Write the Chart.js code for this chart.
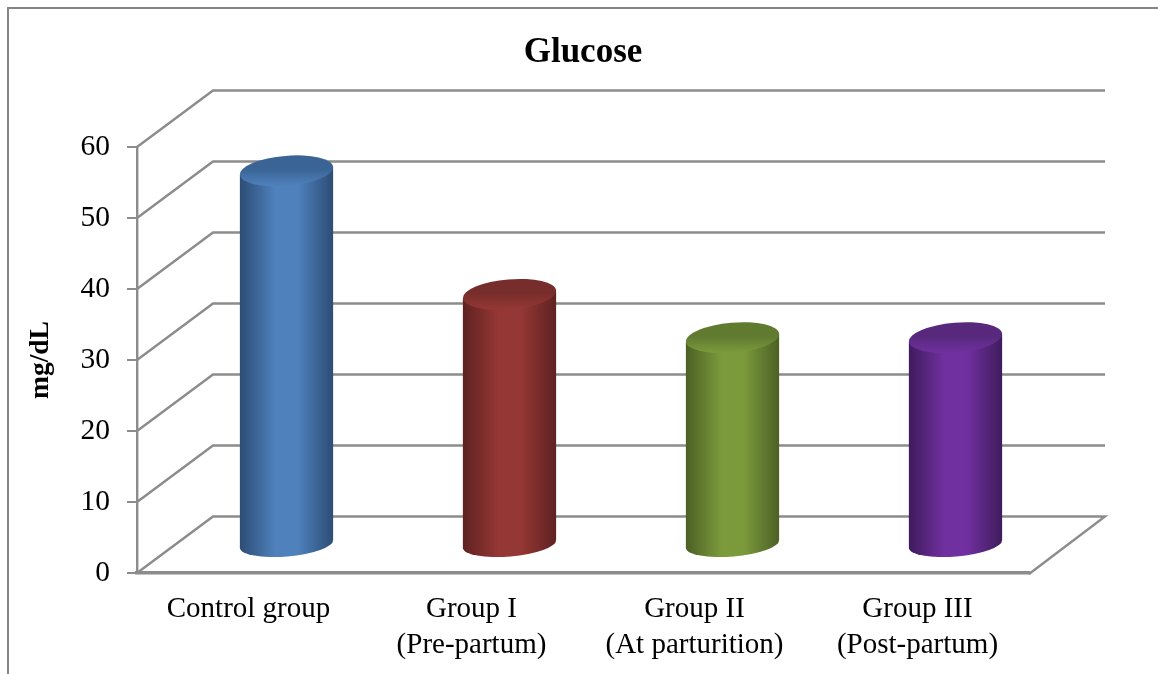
<!DOCTYPE html>
<html>
<head>
<meta charset="utf-8">
<title>Glucose</title>
<script src="https://cdn.jsdelivr.net/npm/chart.js@4"></script>
<style>
  html, body { margin: 0; padding: 0; background: #fff; overflow: hidden; }
  #wrap { width: 1158px; height: 674px; }
</style>
</head>
<body>
<div id="wrap"><canvas id="glucoseChart" width="1158" height="674"></canvas></div>
<script>
var categories = [
  "Control group",
  ["Group I", "(Pre-partum)"],
  ["Group II", "(At parturition)"],
  ["Group III", "(Post-partum)"]
];
var glucose = [52.7, 35.3, 29.2, 29.2];
var yTicks = [0, 10, 20, 30, 40, 50, 60];

var midColors = ["#4f81bd", "#953735", "#7b9a3c", "#7030a0"];
var edgeColors = ["#2c4d75", "#5e2221", "#4c6025", "#3f1b5c"];
var capColors = ["#3a6496", "#772d2b", "#607a30", "#57287c"];

var GRID = "#8c8c8c";
var FONT = "'Liberation Serif', 'Times New Roman', serif";
var DEPTH_X = 76, DEPTH_Y = -56.5;   // how far the back wall sits behind the front axis
var BAR_X = 38, BAR_Y = -28;         // bars stand half way in
var BAR_PCT = 0.418;
var CAP_RY = 15, FOOT_RY = 12.5, TILT = -0.085;

function sideGradient(c, left, right, i) {
  var g = c.createLinearGradient(left, 0, right, 0);
  g.addColorStop(0, edgeColors[i]);
  g.addColorStop(0.38, midColors[i]);
  g.addColorStop(0.62, midColors[i]);
  g.addColorStop(1, edgeColors[i]);
  return g;
}

// the tilted outline of a cylinder body, between the middles of its two ends
function bodyPath(c, b) {
  var half = b.width / 2, d = Math.tan(-TILT) * half;
  c.moveTo(b.x - half, b.y + d);
  c.lineTo(b.x + half, b.y - d);
  c.lineTo(b.x + half, b.base - d);
  c.lineTo(b.x - half, b.base + d);
  c.closePath();
}

var wall3d = {
  id: "wall3d",
  beforeDraw: function (chart) {
    var c = chart.ctx;
    // picture frame, only top and left show
    c.save();
    c.strokeStyle = "#868686";
    c.lineWidth = 2;
    c.beginPath();
    c.moveTo(8, chart.height);
    c.lineTo(8, 8);
    c.lineTo(chart.width, 8);
    c.stroke();
    c.restore();
  },
  beforeDatasetsDraw: function (chart) {
    var c = chart.ctx, a = chart.chartArea, y = chart.scales.y;
    c.save();
    c.strokeStyle = GRID;
    c.lineWidth = 2.4;
    yTicks.forEach(function (t) {
      var py = y.getPixelForValue(t);
      c.beginPath();
      c.moveTo(a.left, py);
      c.lineTo(a.left + DEPTH_X, py + DEPTH_Y);
      c.lineTo(a.right + DEPTH_X, py + DEPTH_Y);
      if (t === 0) c.lineTo(a.right, py + 1);
      c.stroke();
    });
    c.restore();

    // feet and tilted body first, the straight bars then get clipped to that body
    c.save();
    c.translate(BAR_X, BAR_Y);
    var bars = chart.getDatasetMeta(0).data;
    bars.forEach(function (b, i) {
      var half = b.width / 2;
      c.fillStyle = sideGradient(c, b.x - half, b.x + half, i);
      c.beginPath();
      c.ellipse(b.x, b.base, half / Math.cos(TILT), FOOT_RY, TILT, 0, Math.PI * 2);
      c.fill();
      c.beginPath();
      bodyPath(c, b);
      c.fill();
    });
    c.beginPath();
    bars.forEach(function (b) {
      bodyPath(c, b);
    });
    c.clip();
  },
  afterDatasetsDraw: function (chart) {
    var c = chart.ctx;
    c.restore();
    c.save();
    c.translate(BAR_X, BAR_Y);
    chart.getDatasetMeta(0).data.forEach(function (b, i) {
      var half = b.width / 2;
      var g = c.createLinearGradient(0, b.y - CAP_RY, 0, b.y + CAP_RY);
      g.addColorStop(0, capColors[i]);
      g.addColorStop(0.45, capColors[i]);
      g.addColorStop(1, midColors[i]);
      c.fillStyle = g;
      c.beginPath();
      c.ellipse(b.x, b.y, half / Math.cos(TILT), CAP_RY, TILT, 0, Math.PI * 2);
      c.fill();
    });
    c.restore();
  }
};

new Chart(document.getElementById("glucoseChart"), {
  type: "bar",
  plugins: [wall3d],
  data: {
    labels: categories,
    datasets: [{
      label: "Glucose",
      data: glucose,
      categoryPercentage: 1,
      barPercentage: BAR_PCT,
      borderWidth: 0,
      backgroundColor: function (ctx) {
        var i = ctx.dataIndex, chart = ctx.chart;
        if (i === undefined || !chart.chartArea) return midColors[0];
        var x = chart.scales.x;
        var center = x.getPixelForValue(i);
        var half = chart.chartArea.width / categories.length * BAR_PCT / 2;
        if (!isFinite(center) || !isFinite(half)) return midColors[i];
        return sideGradient(chart.ctx, center - half, center + half, i);
      }
    }]
  },
  options: {
    responsive: false,
    animation: false,
    layout: { autoPadding: false, padding: { left: 0, right: 129, top: 0, bottom: 0 } },
    plugins: {
      legend: { display: false },
      tooltip: { enabled: false },
      title: {
        display: true,
        text: "Glucose",
        fullSize: false,
        color: "#000",
        font: { family: FONT, size: 35, weight: "bold", lineHeight: 1.2 },
        padding: { top: 32, bottom: 73 }
      }
    },
    scales: {
      x: {
        afterFit: function (s) { s.height = 101; },
        grid: { display: false },
        border: { display: true, color: GRID, width: 3.5 },
        ticks: {
          color: "#000",
          padding: 10,
          maxRotation: 0,
          autoSkip: false,
          font: { family: FONT, size: 29, lineHeight: 1.24 }
        }
      },
      y: {
        min: 0,
        max: 60,
        afterFit: function (s) { s.width = 137; },
        afterBuildTicks: function (s) {
          s.ticks = yTicks.map(function (v) { return { value: v }; });
        },
        grid: { drawOnChartArea: false, drawTicks: true, tickLength: 10, color: GRID, lineWidth: 2 },
        border: { display: true, color: GRID, width: 2.4 },
        ticks: {
          color: "#000",
          padding: 17,
          font: { family: FONT, size: 29.5 }
        },
        title: {
          display: true,
          text: "mg/dL",
          color: "#000",
          font: { family: FONT, size: 27.5, weight: "bold", lineHeight: 1.2 },
          padding: { top: 24, bottom: 0 }
        }
      }
    }
  }
});
</script>
</body>
</html>
